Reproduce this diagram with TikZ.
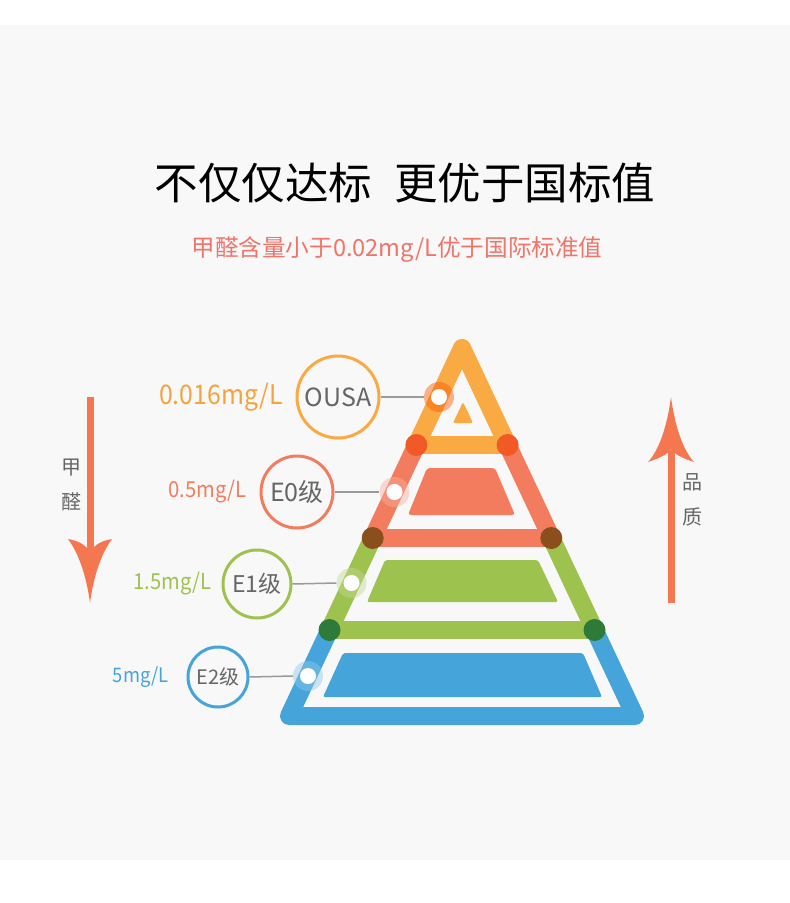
\documentclass[tikz,border=0pt]{standalone}
\usepackage{fontspec}
\setmainfont{Noto Sans CJK SC}
\newfontfamily\valfont[FakeStretch=0.92]{Noto Sans CJK SC}
\definecolor{bgC}{HTML}{F8F8F9}
\definecolor{orangeC}{HTML}{F9AA42}
\definecolor{orangeT}{HTML}{F4A43A}
\definecolor{redC}{HTML}{F47C5E}
\definecolor{greenC}{HTML}{9DC24E}
\definecolor{blueC}{HTML}{45A4D9}
\definecolor{dotA}{HTML}{F15A24}
\definecolor{dotB}{HTML}{8B4F1E}
\definecolor{dotC}{HTML}{2D7A39}
\definecolor{arrowC}{HTML}{F5774F}
\definecolor{subC}{HTML}{F07468}
\definecolor{greyT}{HTML}{666666}
\definecolor{lineC}{HTML}{9A9A9A}
\tikzset{
  ring/.style={circle, line width=3pt, inner sep=0pt, text=greyT},
  halo/.style={circle, inner sep=0pt, minimum size=30pt, fill opacity=0.45},
  wdot/.style={circle, inner sep=0pt, minimum size=16pt, fill=white},
  jdot/.style={circle, inner sep=0pt, minimum size=22pt},
  conn/.style={draw=lineC, line width=1.5pt},
  side/.style={line width=18pt, line join=round},
  bar/.style={line width=18pt},
  vlabel/.style={anchor=east, inner sep=0pt},
}
\begin{document}
\begin{tikzpicture}[x=1pt,y=-1pt]
\useasboundingbox (0,0) rectangle (790,903);
\fill[white] (0,0) rectangle (790,903);
\fill[bgC] (0,25) rectangle (790,860);

% title
\node[font=\fontsize{43.5}{48}\selectfont, text=black] (title) at (405,183) {不仅仅达标\hspace{0.5em}更优于国标值};
\node[font=\fontsize{23.6}{28}\selectfont, text=subC] (sub) at (397,249) {甲醛含量小于0.02mg/L优于国际标准值};

% pyramid coordinates
\coordinate (apex) at (462,348);
\coordinate (bl) at (289,716);
\coordinate (br) at (635,716);

% bars
\draw[bar, orangeC] (416.4,445) -- (507.6,445);
\draw[bar, redC] (372.7,538) -- (551.3,538);
\draw[bar, greenC] (329.5,630) -- (594.5,630);

% sides in bands
\begin{scope}
\clip (0,300) rectangle (790,445);
\draw[side, orangeC] (apex) -- (bl) -- (br) -- cycle;
\end{scope}
\begin{scope}
\clip (0,445) rectangle (790,538);
\draw[side, redC] (apex) -- (bl) -- (br) -- cycle;
\end{scope}
\begin{scope}
\clip (0,538) rectangle (790,630);
\draw[side, greenC] (apex) -- (bl) -- (br) -- cycle;
\end{scope}
\begin{scope}
\clip (0,630) rectangle (790,760);
\draw[side, blueC] (apex) -- (bl) -- (br) -- cycle;
\end{scope}

% inner fills
\fill[orangeC, rounded corners=1.5pt] (463,402) -- (473,423) -- (453,423) -- cycle;
\fill[redC, rounded corners=3pt] (427,468) -- (495,468) -- (515,515) -- (408,515) -- cycle;
\fill[greenC, rounded corners=2pt] (385,560) -- (538,560) -- (558,602) -- (367,602) -- cycle;
\fill[blueC, rounded corners=2pt] (343,653) -- (583,653) -- (602,697) -- (323,697) -- cycle;

% junction dots
\node[jdot, fill=dotA] (j1l) at (416.4,445) {};
\node[jdot, fill=dotA] (j1r) at (507.6,445) {};
\node[jdot, fill=dotB] (j2l) at (372.7,538) {};
\node[jdot, fill=dotB] (j2r) at (551.3,538) {};
\node[jdot, fill=dotC] (j3l) at (329.5,630) {};
\node[jdot, fill=dotC] (j3r) at (594.5,630) {};

% level 0
\node[ring, draw=orangeC, minimum size=82pt, font=\fontsize{25}{28}\selectfont] (c0) at (338,397) {OUSA};
\node[halo, fill=orange!70!red] (h0) at (439,397) {};
\draw[conn] (c0.east) -- (h0.west);
\node[wdot] (d0) at (h0.center) {};
\node[vlabel, text=orangeT, font=\valfont\fontsize{27}{30}\selectfont] (v0) at (283,397) {0.016mg/L};

% level 1
\node[ring, draw=redC, minimum size=72pt, font=\fontsize{25}{28}\selectfont] (c1) at (297,492) {E0级};
\node[halo, fill=redC!60!white] (h1) at (394.5,492) {};
\draw[conn] (c1.east) -- (h1.west);
\node[wdot] (d1) at (h1.center) {};
\node[vlabel, text=redC, font=\valfont\fontsize{22}{26}\selectfont] (v1) at (247,492) {0.5mg/L};

% level 2
\node[ring, draw=greenC, minimum size=68pt, font=\fontsize{23}{26}\selectfont] (c2) at (257,584) {E1级};
\node[halo, fill=greenC!60!white] (h2) at (351.5,583) {};
\draw[conn] (c2.east) -- (h2.west);
\node[wdot] (d2) at (h2.center) {};
\node[vlabel, text=greenC, font=\valfont\fontsize{22}{26}\selectfont] (v2) at (212,584) {1.5mg/L};

% level 3
\node[ring, draw=blueC, minimum size=60pt, font=\fontsize{20}{24}\selectfont] (c3) at (218,677) {E2级};
\node[halo, fill=blueC!60!white] (h3) at (308,676) {};
\draw[conn] (c3.east) -- (h3.west);
\node[wdot] (d3) at (h3.center) {};
\node[vlabel, text=blueC, font=\valfont\fontsize{20}{24}\selectfont] (v3) at (169,677) {5mg/L};

% left arrow
\coordinate (la1) at (90,397);
\coordinate (la2) at (90,556);
\draw[arrowC, line width=7pt] (la1) -- (la2);
\fill[arrowC] (90,603) .. controls (87,580) and (80,555) .. (68,539) .. controls (80,541) and (87,546) .. (90,553) .. controls (93,546) and (100,541) .. (112,539) .. controls (100,555) and (93,580) .. (90,603) -- cycle;
\node[text=greyT, font=\fontsize{20}{24}\selectfont] (t1) at (71,468) {甲};
\node[text=greyT, font=\fontsize{20}{24}\selectfont] (t2) at (71,502) {醛};

% right arrow
\coordinate (ra1) at (671,603);
\coordinate (ra2) at (671,450);
\draw[arrowC, line width=7pt] (ra1) -- (ra2);
\fill[arrowC] (671,397) .. controls (668,420) and (661,448) .. (648,462) .. controls (660,458) and (668,454) .. (671,449) .. controls (674,454) and (682,458) .. (694,462) .. controls (681,448) and (674,420) .. (671,397) -- cycle;
\node[text=greyT, font=\fontsize{20}{24}\selectfont] (t3) at (692,482) {品};
\node[text=greyT, font=\fontsize{20}{24}\selectfont] (t4) at (692,517) {质};
\end{tikzpicture}
\end{document}
